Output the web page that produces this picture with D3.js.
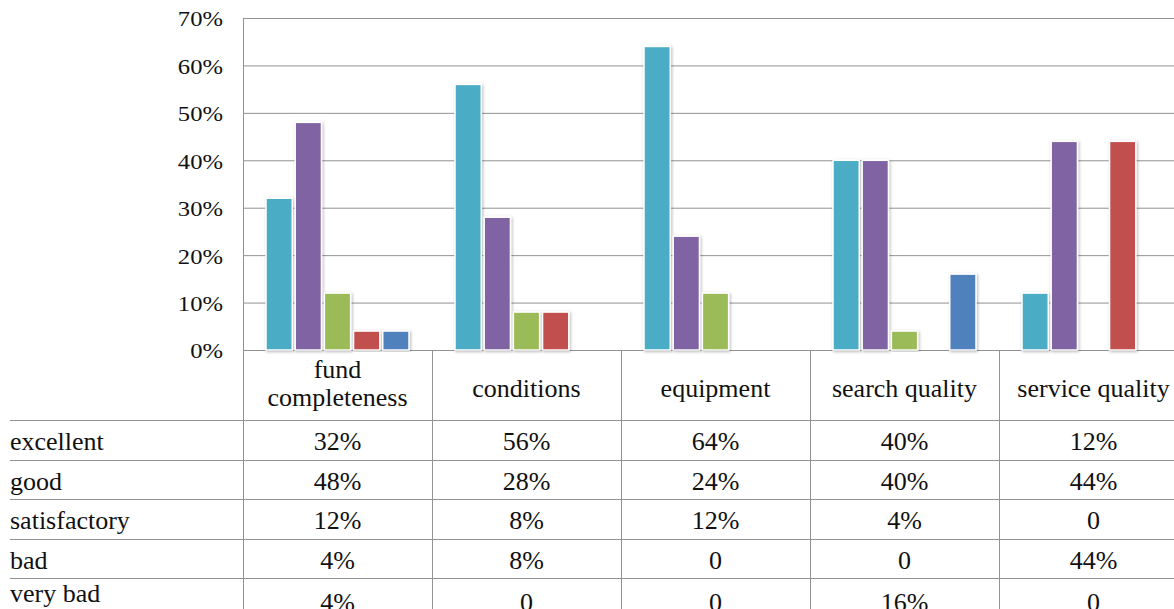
<!DOCTYPE html>
<html>
<head>
<meta charset="utf-8">
<script src="https://cdn.jsdelivr.net/npm/d3@7"></script>
<style>
  body { margin: 0; background: #fff; overflow: hidden; }
  svg { display: block; font-family: "Liberation Serif", "Times New Roman", serif; }
</style>
</head>
<body>
<svg id="chart" width="1174" height="609"></svg>
<script>
// chart data
const categories = ["fund completeness", "conditions", "equipment", "search quality", "service quality"];
const seriesNames = ["excellent", "good", "satisfactory", "bad", "very bad"];
const excellent = [32, 56, 64, 40, 12];
const good = [48, 28, 24, 40, 44];
const satisfactory = [12, 8, 12, 4, 0];
const bad = [4, 8, 0, 0, 44];
const veryBad = [4, 0, 0, 16, 0];
const yTicks = [0, 10, 20, 30, 40, 50, 60, 70];
const colors = ["#4bacc6", "#8064a2", "#9bbb59", "#c0504d", "#4f81bd"];

const seriesValues = [excellent, good, satisfactory, bad, veryBad];

const svg = d3.select("#chart");
const plotLeft = 243, plotTop = 18, plotBottom = 350, colW = 189;
const gridColor = "#929292";
const fontSize = 26;

// drop shadow for bars
const defs = svg.append("defs");
const f = defs.append("filter").attr("id", "shadow")
    .attr("x", "-20%").attr("y", "-10%").attr("width", "140%").attr("height", "120%");
f.append("feDropShadow").attr("dx", 1).attr("dy", 1).attr("stdDeviation", 1.5)
    .attr("flood-color", "#000").attr("flood-opacity", 0.3);

const x = d3.scaleBand().domain(categories).range([plotLeft, plotLeft + colW * categories.length]);
const xs = d3.scaleBand().domain(seriesNames).range([23, 166]).paddingInner(0.1);
const y = d3.scaleLinear().domain([0, 70]).range([plotBottom, plotTop]);

// gridlines
svg.append("g").selectAll("line").data(yTicks).join("line")
    .attr("x1", plotLeft).attr("x2", 1174)
    .attr("y1", d => y(d) + 0.5).attr("y2", d => y(d) + 0.5)
    .attr("stroke", gridColor).attr("stroke-width", 1);

// y axis labels (slightly wide in the original)
svg.append("g").selectAll("text").data(yTicks).join("text")
    .attr("transform", d => `translate(223,${y(d)}) scale(1.12,1)`)
    .attr("dy", "0.38em")
    .attr("text-anchor", "end")
    .attr("font-size", 22)
    .attr("fill", "#111")
    .text(d => d + "%");

// bars
const groups = svg.append("g").selectAll("g").data(categories).join("g")
    .attr("transform", d => `translate(${x(d)},0)`);

groups.selectAll("rect")
    .data((c, ci) => seriesNames.map((s, si) => ({ s, si, v: seriesValues[si][ci] })).filter(d => d.v > 0))
    .join("rect")
    .attr("x", d => xs(d.s))
    .attr("width", xs.bandwidth())
    .attr("y", d => y(d.v))
    .attr("height", d => y(0) - y(d.v))
    .attr("fill", d => colors[d.si])
    .attr("stroke", "#fff")
    .attr("stroke-width", 1.5)
    .attr("filter", "url(#shadow)");

// table
const headerBottom = 420, rowH = 39.5;
const tableRight = 1174;
const table = svg.append("g");

// vertical axis line through plot and table
table.append("line")
    .attr("x1", plotLeft + 0.5).attr("x2", plotLeft + 0.5)
    .attr("y1", plotTop).attr("y2", 609)
    .attr("stroke", gridColor);

// column dividers
table.selectAll("line.col").data(categories.slice(1)).join("line")
    .attr("class", "col")
    .attr("x1", d => x(d) + 0.5).attr("x2", d => x(d) + 0.5)
    .attr("y1", plotBottom).attr("y2", 609)
    .attr("stroke", gridColor);

// row lines
const rowLines = d3.range(seriesNames.length).map(i => headerBottom + i * rowH);
table.selectAll("line.row").data(rowLines).join("line")
    .attr("class", "row")
    .attr("x1", 10).attr("x2", tableRight)
    .attr("y1", d => Math.round(d) + 0.5).attr("y2", d => Math.round(d) + 0.5)
    .attr("stroke", gridColor);

// header labels
const header = table.selectAll("text.hdr").data(categories).join("text")
    .attr("class", "hdr")
    .attr("text-anchor", "middle")
    .attr("font-size", fontSize)
    .attr("fill", "#111");
header.each(function(d) {
  const t = d3.select(this);
  const cx = x(d) + colW / 2;
  if (d === "fund completeness") {
    t.append("tspan").attr("x", cx).attr("y", 378).text("fund");
    t.append("tspan").attr("x", cx).attr("y", 406).text("completeness");
  } else {
    t.append("tspan").attr("x", cx).attr("y", 397).text(d);
  }
});

// row labels and values (last row is cut off by the page edge in the original)
seriesNames.forEach((s, si) => {
  const last = si === seriesNames.length - 1;
  const lineY = headerBottom + si * rowH;
  const labelBase = last ? lineY + 24 : lineY + 30;
  const valueBase = last ? lineY + 33 : lineY + 30;
  table.append("text")
      .attr("x", 10).attr("y", labelBase)
      .attr("font-size", fontSize).attr("fill", "#111")
      .text(s);
  table.append("g").selectAll("text").data(categories).join("text")
      .attr("x", d => x(d) + colW / 2).attr("y", valueBase)
      .attr("text-anchor", "middle")
      .attr("font-size", fontSize).attr("fill", "#111")
      .text((d, ci) => seriesValues[si][ci] === 0 ? "0" : seriesValues[si][ci] + "%");
});
</script>
</body>
</html>
